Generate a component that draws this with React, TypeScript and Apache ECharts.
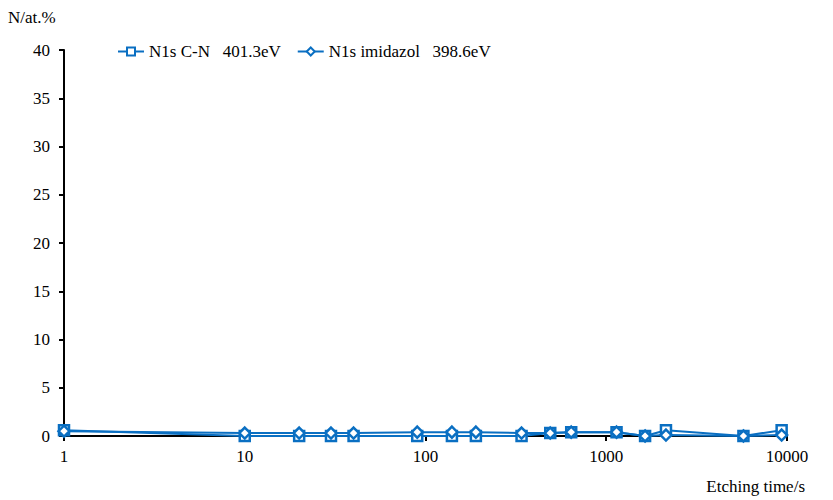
import React, { useEffect, useRef } from "react";
import * as echarts from "echarts";

// Etching time (s) and nitrogen species content (at.%)
const etchTimes = [1, 10, 20, 30, 40, 90, 140, 190, 340, 490, 640, 1140, 1640, 2140, 5740, 9340];
const cnValues = [0.6, 0, 0, 0, 0, 0, 0, 0, 0, 0.3, 0.4, 0.4, 0, 0.6, 0, 0.6];
const imidazolValues = [0.5, 0.3, 0.3, 0.3, 0.3, 0.4, 0.4, 0.4, 0.3, 0.3, 0.4, 0.4, 0, 0.1, 0, 0.1];
const seriesNames = ["N1s C-N   401.3eV", "N1s imidazol   398.6eV"];

const BLUE = "#0a6fc2";
const FONT = '"Liberation Serif", "DejaVu Serif", "Times New Roman", serif';

export default function App() {
  const ref = useRef<HTMLDivElement>(null);

  useEffect(() => {
    if (!ref.current) return;
    const chart = echarts.init(ref.current, null, { renderer: "svg" });
    const pair = (vals: number[]) => etchTimes.map((t, i) => [t, vals[i]]);
    const label = { fontFamily: FONT, fontSize: 17, color: "#000" };

    chart.setOption({
      animation: false,
      textStyle: { fontFamily: FONT, color: "#000" },
      grid: { left: 64, right: 46, top: 50, bottom: 64 },
      legend: {
        top: 38,
        left: 112,
        itemWidth: 26,
        itemHeight: 10,
        itemGap: 16,
        textStyle: { ...label },
        data: seriesNames,
      },
      graphic: [
        {
          type: "text",
          left: 8,
          top: 9,
          style: { text: "N/at.%", font: `17px ${FONT}`, fill: "#000" },
        },
        {
          type: "text",
          right: 28,
          top: 478,
          style: { text: "Etching time/s", font: `17px ${FONT}`, fill: "#000" },
        },
      ],
      xAxis: {
        type: "log",
        logBase: 10,
        min: 1,
        max: 10000,
        axisLine: { show: true, onZero: true, lineStyle: { color: "#000", width: 2 } },
        axisTick: { show: true, inside: false, length: 5, lineStyle: { color: "#000", width: 2 } },
        minorTick: { show: false },
        splitLine: { show: false },
        axisLabel: { ...label, margin: 12, formatter: (v: number) => String(Math.round(v)) },
      },
      yAxis: {
        type: "value",
        min: 0,
        max: 40,
        interval: 5,
        axisLine: { show: true, lineStyle: { color: "#000", width: 2 } },
        axisTick: { show: true, inside: false, length: 5, lineStyle: { color: "#000", width: 2 } },
        splitLine: { show: false },
        axisLabel: { ...label, margin: 14 },
      },
      series: [
        {
          name: seriesNames[0],
          type: "line",
          data: pair(cnValues),
          symbol: "rect",
          symbolSize: 10,
          lineStyle: { color: BLUE, width: 2 },
          itemStyle: { color: "#fff", borderColor: BLUE, borderWidth: 2.5 },
          z: 3,
        },
        {
          name: seriesNames[1],
          type: "line",
          data: pair(imidazolValues),
          symbol: "diamond",
          symbolSize: 11,
          lineStyle: { color: BLUE, width: 2 },
          itemStyle: { color: "#fff", borderColor: BLUE, borderWidth: 2.5 },
          z: 4,
        },
      ],
    });

    return () => chart.dispose();
  }, []);

  return <div ref={ref} style={{ width: 833, height: 500, position: "absolute", left: 0, top: 0 }} />;
}
